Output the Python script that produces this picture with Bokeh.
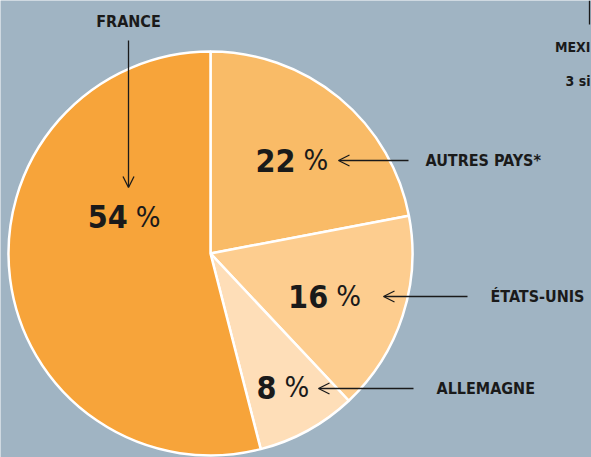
import math
from bokeh.plotting import figure
from bokeh.models import Arrow, OpenHead, ColumnDataSource
from bokeh.core.properties import value
from bokeh.embed import file_html
from bokeh.resources import INLINE

# ---- data ----
countries = ["AUTRES PAYS*", "ÉTATS-UNIS", "ALLEMAGNE", "FRANCE"]
shares = [22, 16, 8, 54]
pct_labels = ["22", "16", "8", "54"]
colors = ["#F9BB67", "#FDCD8F", "#FEDEB8", "#F7A43A"]
extra_label = ["MEXI", "3 si"]

# ---- layout ----
W, H = 591, 457
BG = "#A0B4C3"
FONT = "DejaVu Sans Condensed"
INK = "#1a1a1a"

def win(x, y):
    # window pixel coords -> data coords
    return x, H - y

cx, cy = win(210, 253)
R = 202

p = figure(width=W, height=H, x_range=(0, W), y_range=(0, H),
           output_backend="svg", toolbar_location=None, min_border=0)
p.axis.visible = False
p.grid.visible = False
p.outline_line_color = None
p.background_fill_color = BG
p.border_fill_color = BG

# wedges
starts, ends = [], []
acc = 0
total = sum(shares)
for s in shares:
    a0 = math.pi / 2 - 2 * math.pi * acc / total
    a1 = a0 - 2 * math.pi * s / total
    starts.append(a0)
    ends.append(a1)
    acc += s
src = ColumnDataSource(dict(start=starts, end=ends, color=colors, country=countries))
p.wedge(x=cx, y=cy, radius=R, start_angle="start", end_angle="end", direction="clock",
        fill_color="color", line_color="white", line_width=2.5, source=src)

# percentage labels (polar placement around centre)
label_polar = [(129, 46.3), (129, -19.4), (151, -62.4), (87, 154.9)]
nx, ny, px = [], [], []
for (r, ang) in label_polar:
    x = cx + r * math.cos(math.radians(ang))
    y = cy + r * math.sin(math.radians(ang))
    nx.append(x - 4)
    px.append(x + 4)
    ny.append(y)
p.text(x=nx, y=ny, text=pct_labels, text_font=value(FONT), text_font_style="bold",
       text_font_size="32px", text_align="right", text_baseline="middle", text_color=INK)
p.text(x=px, y=ny, text=["%"] * len(pct_labels), text_font=value(FONT),
       text_font_size="29px", text_align="left", text_baseline="middle", text_color=INK)

# side labels with arrows
side = [  # (arrow tail x, arrow head x, y, label x) in window px
    (408, 338, 160, 425),
    (467, 383, 296, 490),
    (413, 318, 388, 436),
]
for i, (tx, hx, y, lx) in enumerate(side):
    x0, y0 = win(tx, y)
    x1, _ = win(hx, y)
    p.add_layout(Arrow(x_start=x0, y_start=y0, x_end=x1, y_end=y0, line_color=INK,
                       line_width=1.3, end=OpenHead(size=11, line_color=INK, line_width=1.3)))
    lx0, ly0 = win(lx, y)
    p.text(x=[lx0], y=[ly0], text=[countries[i]], text_font=value(FONT), text_font_style="bold",
           text_font_size="16px", text_align="left", text_baseline="middle", text_color=INK)

# France label and vertical arrow
fx, fy = win(128, 21)
p.text(x=[fx], y=[fy], text=[countries[3]], text_font=value(FONT), text_font_style="bold",
       text_font_size="16px", text_align="center", text_baseline="middle", text_color=INK)
ax0, ay0 = win(128, 40)
ax1, ay1 = win(128, 187)
p.add_layout(Arrow(x_start=ax0, y_start=ay0, x_end=ax1, y_end=ay1, line_color=INK,
                   line_width=1.3, end=OpenHead(size=11, line_color=INK, line_width=1.3)))

# cropped neighbouring annotation (top right)
vx, vy0 = win(589, 0)
_, vy1 = win(589, 24)
p.segment(x0=[vx], y0=[vy0], x1=[vx], y1=[vy1], line_color=INK, line_width=1.3)
mx, my = win(590, 46)
p.text(x=[mx], y=[my], text=[extra_label[0]], text_font=value(FONT), text_font_style="bold",
       text_font_size="14px", text_align="right", text_baseline="middle", text_color=INK)
sx, sy = win(590, 80)
p.text(x=[sx], y=[sy], text=[extra_label[1]], text_font=value(FONT), text_font_style="bold",
       text_font_size="14px", text_align="right", text_baseline="middle", text_color=INK)

open("out.html", "w").write(file_html(p, INLINE))
